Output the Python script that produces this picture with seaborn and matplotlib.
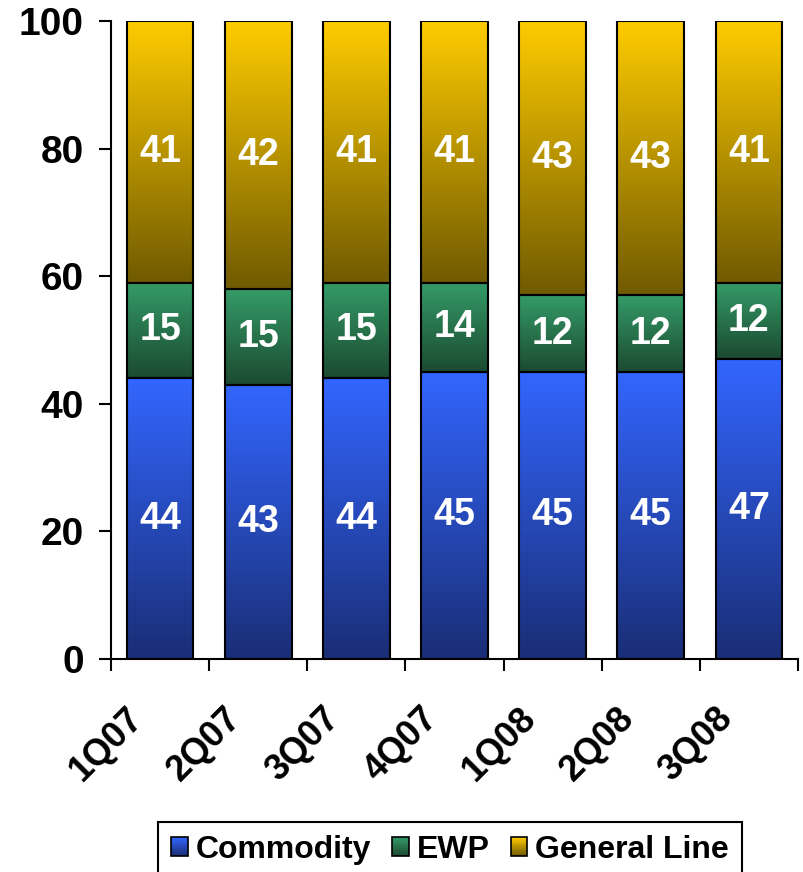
import numpy as np
import pandas as pd
import seaborn as sns
import matplotlib.pyplot as plt
from matplotlib.patches import Rectangle, Patch
from matplotlib.legend_handler import HandlerBase
from matplotlib.transforms import ScaledTranslation

# Dados
quarters = ['1Q07', '2Q07', '3Q07', '4Q07', '1Q08', '2Q08', '3Q08']
commodity = [44, 43, 44, 45, 45, 45, 47]
ewp = [15, 15, 15, 14, 12, 12, 12]
general_line = [41, 42, 41, 41, 43, 43, 41]

series_names = ['Commodity', 'EWP', 'General Line']
# cor do topo e da base do degrade
grad_top = {'Commodity': (51, 102, 255), 'EWP': (52, 155, 104), 'General Line': (255, 204, 0)}
grad_bot = {'Commodity': (26, 46, 118), 'EWP': (27, 74, 48), 'General Line': (112, 90, 0)}

sns.set_style('white')
plt.rcParams['font.family'] = ['Liberation Sans', 'DejaVu Sans']
plt.rcParams['font.weight'] = 'bold'
plt.rcParams['text.color'] = 'black'
plt.rcParams['xtick.color'] = 'black'
plt.rcParams['ytick.color'] = 'black'

df = pd.DataFrame({'quarter': quarters, 'Commodity': commodity,
                   'EWP': ewp, 'General Line': general_line})

fig = plt.figure(figsize=(8.04, 8.72), dpi=100)
ax = fig.add_axes([111 / 804, 1 - 659 / 872, 687 / 804, 638 / 872])


def gradient(top, bot, n=256):
    t = np.linspace(0, 1, n)[:, None]
    top = np.array(top) / 255
    bot = np.array(bot) / 255
    return (top * (1 - t) + bot * t)[:, None, :]


bottom = np.zeros(len(quarters))
for name in series_names:
    before = len(ax.patches)
    sns.barplot(data=df, x='quarter', y=name, bottom=bottom, ax=ax,
                color='white', edgecolor='black', linewidth=1.5,
                width=0.68, errorbar=None)
    img = gradient(grad_top[name], grad_bot[name])
    for p, val in zip(ax.patches[before:], df[name]):
        x0, y0 = p.get_x(), p.get_y()
        w, h = p.get_width(), p.get_height()
        im = ax.imshow(img, extent=[x0, x0 + w, y0, y0 + h], aspect='auto',
                       zorder=1.5, interpolation='bilinear')
        im.set_clip_path(p)
        p.set_facecolor('none')
        p.set_zorder(2)
        ax.text(x0 + w / 2, y0 + h / 2, str(val), color='white',
                fontsize=27, fontweight='bold', ha='center', va='center', zorder=3)
    bottom = bottom + df[name].values

ax.set_xlim(-0.5, 6.5)
ax.set_ylim(0, 100)
ax.set_xlabel('')
ax.set_ylabel('')

# eixos
sns.despine(ax=ax)
for s in ['left', 'bottom']:
    ax.spines[s].set_linewidth(1.5)
    ax.spines[s].set_color('black')

ax.set_yticks([0, 20, 40, 60, 80, 100])
ax.set_yticklabels(['0', '20', '40', '60', '80', '100'], fontsize=28, fontweight='bold')
ax.tick_params(axis='y', left=True, direction='out', length=8.6, width=1.5, pad=11,
               color='black', labelcolor='black')

ax.set_xticks(np.arange(-0.5, 7, 1))
ax.set_xticklabels([])
ax.set_xticks(range(7), minor=True)
ax.set_xticklabels(quarters, minor=True, fontsize=26, fontweight='bold',
                   rotation=45, ha='right', va='center', rotation_mode='anchor')
ax.tick_params(axis='x', which='major', bottom=True, direction='out', length=8.6,
               width=1.5, color='black')
ax.tick_params(axis='x', which='minor', bottom=True, length=0, pad=0, labelcolor='black')
off = ScaledTranslation(-0.22, -0.54, fig.dpi_scale_trans)
for lab in ax.get_xticklabels(minor=True):
    lab.set_transform(lab.get_transform() + off)


# legenda com degrade
class GradientHandler(HandlerBase):
    def __init__(self, top, bot):
        super().__init__()
        self.top = np.array(top) / 255
        self.bot = np.array(bot) / 255

    def create_artists(self, legend, orig_handle, xdescent, ydescent,
                       width, height, fontsize, trans):
        arts = []
        n = 16
        for i in range(n):
            t = i / (n - 1)
            c = self.top * (1 - t) + self.bot * t
            arts.append(Rectangle((-xdescent, -ydescent + height * (1 - (i + 1) / n)),
                                  width, height / n, facecolor=c, edgecolor='none',
                                  transform=trans))
        arts.append(Rectangle((-xdescent, -ydescent), width, height, facecolor='none',
                              edgecolor='black', linewidth=1.2, transform=trans))
        return arts


handles = [Patch(label=n) for n in series_names]
hmap = {h: GradientHandler(grad_top[n], grad_bot[n]) for h, n in zip(handles, series_names)}
leg = fig.legend(handles=handles, labels=series_names, handler_map=hmap, ncol=3,
                 loc='upper left', bbox_to_anchor=(158 / 804, 1 - 822 / 872),
                 prop={'size': 23, 'weight': 'bold'}, frameon=True, fancybox=False,
                 edgecolor='black', framealpha=1, handlelength=0.53, handleheight=0.56,
                 handletextpad=0.25, columnspacing=0.65, borderpad=0.4,
                 borderaxespad=0)
leg.get_frame().set_linewidth(1.5)

plt.savefig('out.png', dpi=100)
